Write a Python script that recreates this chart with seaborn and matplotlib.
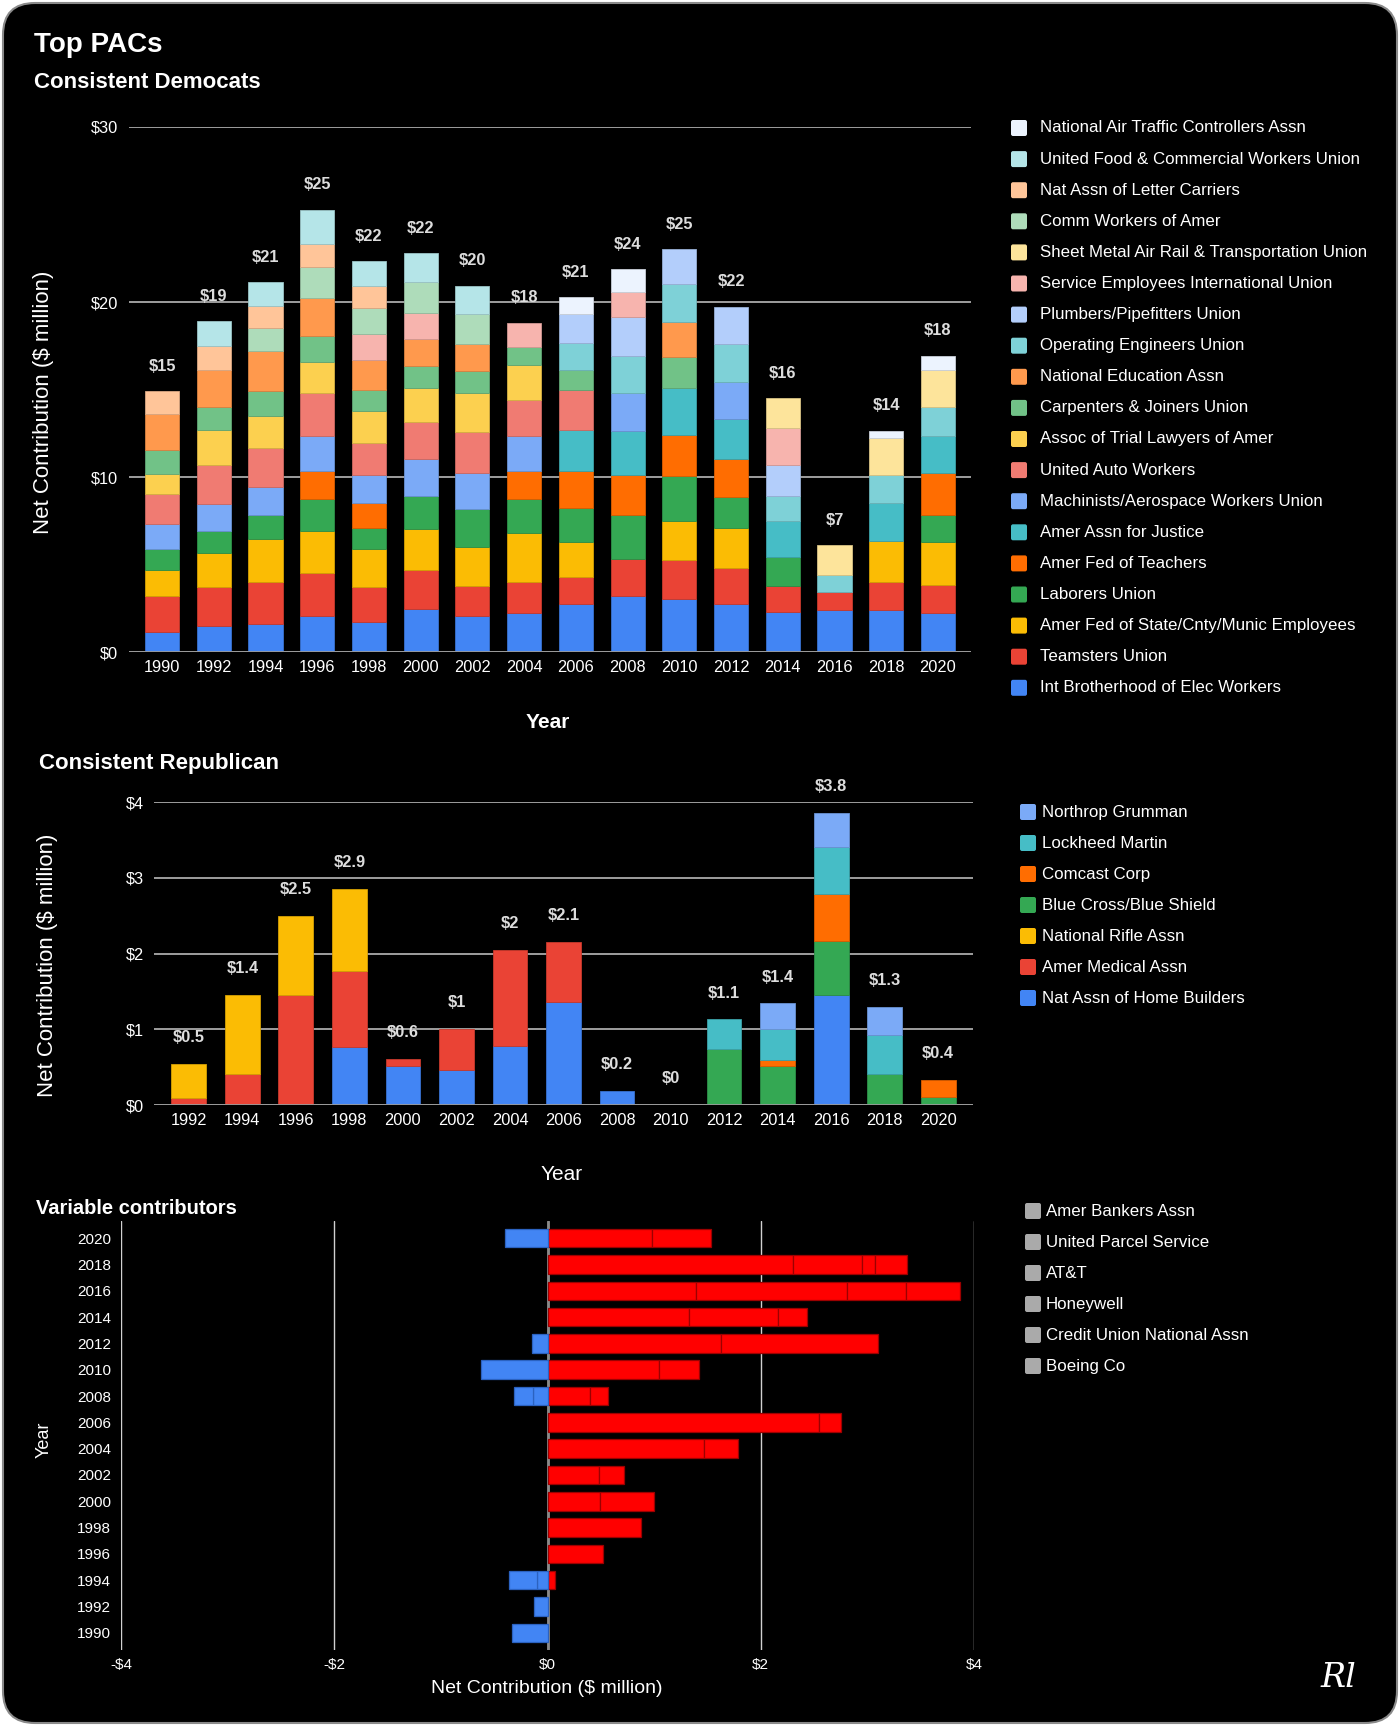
import matplotlib
matplotlib.use("Agg")
import matplotlib.pyplot as plt
import seaborn as sns
import numpy as np
from matplotlib.patches import FancyBboxPatch
from matplotlib.transforms import IdentityTransform
from matplotlib.colors import to_rgb

W, H = 1400, 1726

# ---------------- data: consistent Democrats ----------------
dem_years = [1990, 1992, 1994, 1996, 1998, 2000, 2002, 2004, 2006, 2008, 2010, 2012, 2014, 2016, 2018, 2020]
dem_totals = ["$15", "$19", "$21", "$25", "$22", "$22", "$20", "$18", "$21", "$24", "$25", "$22", "$16", "$7", "$14", "$18"]

ibew       = [1.15, 1.49, 1.59, 2.07, 1.74, 2.45, 2.07, 2.22, 2.72, 3.22, 3.03, 2.72, 2.30, 2.40, 2.40, 2.23]
teamsters  = [2.05, 2.21, 2.43, 2.43, 1.96, 2.21, 1.72, 1.80, 1.55, 2.09, 2.20, 2.10, 1.45, 1.03, 1.60, 1.62]
afscme     = [1.47, 1.95, 2.44, 2.43, 2.16, 2.35, 2.19, 2.76, 2.01, 0, 2.26, 2.25, 0, 0, 2.32, 2.42]
laborers   = [1.21, 1.28, 1.38, 1.79, 1.25, 1.88, 2.20, 1.96, 1.96, 2.53, 2.55, 1.79, 1.70, 0, 0, 1.54]
aft        = [0, 0, 0, 1.62, 1.38, 0, 0, 1.60, 2.10, 2.27, 2.35, 2.17, 0, 0, 0, 2.40]
aaj        = [0, 0, 0, 0, 0, 0, 0, 0, 2.36, 2.53, 2.69, 2.27, 2.04, 0, 2.21, 2.13]
machinists = [1.46, 1.54, 1.59, 1.98, 1.62, 2.13, 2.07, 2.02, 0, 2.15, 0, 2.11, 0, 0, 0, 0]
uaw        = [1.69, 2.20, 2.22, 2.49, 1.86, 2.10, 2.30, 2.05, 2.28, 0, 0, 0, 0, 0, 0, 0]
trial      = [1.17, 2.01, 1.86, 1.78, 1.80, 1.96, 2.24, 1.97, 0, 0, 0, 0, 0, 0, 0, 0]
carpenters = [1.36, 1.34, 1.39, 1.48, 1.23, 1.28, 1.24, 1.03, 1.15, 0, 1.78, 0, 0, 0, 0, 0]
nea        = [2.05, 2.11, 2.28, 2.18, 1.70, 1.55, 1.56, 0, 0, 0, 1.97, 0, 0, 0, 0, 0]
op_eng     = [0, 0, 0, 0, 0, 0, 0, 0, 1.55, 2.13, 2.19, 2.19, 1.44, 0.97, 1.60, 1.68]
plumbers   = [0, 0, 0, 0, 0, 0, 0, 0, 1.63, 2.20, 2.00, 2.13, 1.77, 0, 0, 0]
seiu       = [0, 0, 0, 0, 1.46, 1.44, 0, 1.40, 0, 1.43, 0, 0, 2.12, 0, 0, 0]
sheet      = [0, 0, 0, 0, 0, 0, 0, 0, 0, 0, 0, 0, 1.68, 1.70, 2.12, 2.11]
cwa        = [0, 0, 1.36, 1.77, 1.51, 1.81, 1.72, 0, 0, 0, 0, 0, 0, 0, 0, 0]
carriers   = [1.30, 1.36, 1.25, 1.29, 1.24, 0, 0, 0, 0, 0, 0, 0, 0, 0, 0, 0]
ufcw       = [0, 1.40, 1.35, 1.95, 1.43, 1.62, 1.62, 0, 0, 0, 0, 0, 0, 0, 0, 0]
natca      = [0, 0, 0, 0, 0, 0, 0, 0, 0.95, 1.32, 0, 0, 0, 0, 0.40, 0.80]

# stack order, bottom first
dem_names = ["Int Brotherhood of Elec Workers", "Teamsters Union", "Amer Fed of State/Cnty/Munic Employees",
             "Laborers Union", "Amer Fed of Teachers", "Amer Assn for Justice", "Machinists/Aerospace Workers Union",
             "United Auto Workers", "Assoc of Trial Lawyers of Amer", "Carpenters & Joiners Union",
             "National Education Assn", "Operating Engineers Union", "Plumbers/Pipefitters Union",
             "Service Employees International Union", "Sheet Metal Air Rail & Transportation Union",
             "Comm Workers of Amer", "Nat Assn of Letter Carriers", "United Food & Commercial Workers Union",
             "National Air Traffic Controllers Assn"]
dem_series = [ibew, teamsters, afscme, laborers, aft, aaj, machinists, uaw, trial, carpenters,
              nea, op_eng, plumbers, seiu, sheet, cwa, carriers, ufcw, natca]
dem_colors = ["#4285f4", "#ea4335", "#fbbc04", "#34a853", "#ff6d01", "#46bdc6", "#7baaf7", "#f07b72",
              "#fcd04f", "#71c287", "#ff994d", "#7ed1d7", "#b3cefb", "#f7b4ae", "#fde49b", "#aedcba",
              "#ffc599", "#b5e5e8", "#ecf3fe"]

# ---------------- data: consistent Republican ----------------
rep_years = [1992, 1994, 1996, 1998, 2000, 2002, 2004, 2006, 2008, 2010, 2012, 2014, 2016, 2018, 2020]
rep_totals = ["$0.5", "$1.4", "$2.5", "$2.9", "$0.6", "$1", "$2", "$2.1", "$0.2", "$0", "$1.1", "$1.4", "$3.8", "$1.3", "$0.4"]

nahb     = [0, 0, 0, 0.76, 0.52, 0.46, 0.78, 1.36, 0.185, 0, 0, 0, 1.45, 0, 0]
ama      = [0.09, 0.41, 1.45, 1.01, 0.09, 0.54, 1.27, 0.79, 0, 0, 0, 0, 0, 0, 0]
nra      = [0.45, 1.04, 1.05, 1.08, 0, 0, 0, 0, 0, 0, 0, 0, 0, 0, 0]
bcbs     = [0, 0, 0, 0, 0, 0, 0, 0, 0, 0, 0.74, 0.52, 0.71, 0.41, 0.11]
comcast  = [0, 0, 0, 0, 0, 0, 0, 0, 0, 0, 0, 0.07, 0.62, 0, 0.22]
lockheed = [0, 0, 0, 0, 0, 0, 0, 0, 0, 0, 0.39, 0.41, 0.62, 0.51, 0]
northrop = [0, 0, 0, 0, 0, 0, 0, 0, 0, 0, 0, 0.34, 0.45, 0.38, 0]

rep_names = ["Nat Assn of Home Builders", "Amer Medical Assn", "National Rifle Assn", "Blue Cross/Blue Shield",
             "Comcast Corp", "Lockheed Martin", "Northrop Grumman"]
rep_series = [nahb, ama, nra, bcbs, comcast, lockheed, northrop]
rep_colors = ["#4285f4", "#ea4335", "#fbbc04", "#34a853", "#ff6d01", "#46bdc6", "#7baaf7"]

# ---------------- data: variable contributors ----------------
var_years = [1990, 1992, 1994, 1996, 1998, 2000, 2002, 2004, 2006, 2008, 2010, 2012, 2014, 2016, 2018, 2020]
bankers   = [0, 0, 0.075, 0.52, 0.88, 0.49, 0.48, 1.47, 2.55, 0.40, 1.05, 1.63, 1.33, 1.39, 2.30, 0.98]
ups       = [0, 0, 0, 0, 0, 0.51, 0.24, 0.32, 0.20, 0.17, 0.37, 1.47, 0.83, 1.42, 0.65, 0.55]
att       = [0, 0, 0, 0, 0, 0, 0, 0, 0, 0, 0, 0, 0.27, 0.55, 0.12, 0]
honeywell = [0, 0, 0, 0, 0, 0, 0, 0, 0, 0, 0, 0, 0, 0.51, 0.30, 0]
cuna      = [-0.33, -0.13, -0.095, 0, 0, 0, 0, 0, 0, -0.14, -0.62, -0.15, 0, 0, 0, -0.40]
boeing    = [0, 0, -0.27, 0, 0, 0, 0, 0, 0, -0.17, 0, 0, 0, 0, 0, 0]
var_names = ["Amer Bankers Assn", "United Parcel Service", "AT&T", "Honeywell", "Credit Union National Assn", "Boeing Co"]
var_series = [bankers, ups, att, honeywell, cuna, boeing]

# ---------------- helpers ----------------
def fpos(x, y):
    return x / W, 1 - y / H


def darker(c, f=0.8):
    r, g, b = to_rgb(c)
    return (r * f, g * f, b * f)


def style_axes(ax):
    ax.set_facecolor("black")
    for s in ax.spines.values():
        s.set_visible(False)
    ax.tick_params(colors="white", length=0)


def draw_legend(fig, names, colors, x_sw, x_txt, y0, dy, size=16):
    for i, (lab, col) in enumerate(zip(names, colors)):
        yc = y0 + i * dy
        fig.patches.append(FancyBboxPatch((x_sw, H - yc - size / 2), size, size,
                                          boxstyle="round,pad=0,rounding_size=2",
                                          transform=IdentityTransform(), facecolor=col,
                                          edgecolor="none", zorder=2))
        fig.text(*fpos(x_txt, yc), lab, color="white", fontsize=12.2, va="center", ha="left")


def stacked(ax, x, series, colors, width):
    bottom = np.zeros(len(x))
    for vals, col in zip(series, colors):
        v = np.array(vals, dtype=float)
        m = v > 0
        ax.bar(x[m], v[m], bottom=bottom[m], width=width, color=col,
               edgecolor=darker(col, 0.85), linewidth=0.6, zorder=3)
        bottom += v
    return bottom


sns.set_theme(style="dark")
plt.rcParams["font.family"] = ["Liberation Sans", "DejaVu Sans"]

fig = plt.figure(figsize=(W / 100, H / 100), dpi=100, facecolor="white")
fig.patches.append(FancyBboxPatch((3, 3), W - 6, H - 6, boxstyle="round,pad=0,rounding_size=32",
                                  transform=IdentityTransform(), facecolor="black",
                                  edgecolor="#8a8a8a", linewidth=1.5, zorder=-10))

fig.text(*fpos(34, 45), "Top PACs", color="white", fontsize=20, fontweight="bold", va="center")
fig.text(*fpos(34, 82), "Consistent Democats", color="white", fontsize=16, fontweight="bold", va="center")

# ---------------- chart 1 ----------------
ax1 = fig.add_axes([129 / W, 1 - 652 / H, 842 / W, 525 / H])
style_axes(ax1)
x1 = np.arange(len(dem_years))
tot1 = stacked(ax1, x1, dem_series, dem_colors, 0.66)
ax1.set_xlim(-0.64, len(dem_years) - 0.36)
ax1.set_ylim(0, 30)
ax1.set_yticks([0, 10, 20, 30], ["$0", "$10", "$20", "$30"])
ax1.set_xticks(x1, [str(y) for y in dem_years])
ax1.tick_params(axis="y", pad=8, labelsize=11.8)
ax1.tick_params(axis="x", pad=6, labelsize=11.8)
ax1.yaxis.grid(True, color="#c8c8c8", linewidth=1.1, zorder=0)
ax1.xaxis.grid(False)
ax1.axhline(0, color="#9a9a9a", linewidth=2, zorder=4)
for xi, t, lab in zip(x1, tot1, dem_totals):
    ax1.annotate(lab, (xi, t), xytext=(0, 18), textcoords="offset points", ha="center", va="center",
                 color="#dddddd", fontsize=11.8, fontweight="bold")
fig.text(*fpos(44, 402), "Net Contribution ($ million)", color="white", fontsize=16,
         rotation=90, ha="center", va="center")
fig.text(*fpos(548, 722), "Year", color="white", fontsize=15, fontweight="bold", ha="center", va="center")
draw_legend(fig, dem_names[::-1], dem_colors[::-1], 1011, 1040, 128, 31.1)

# ---------------- chart 2 ----------------
fig.text(*fpos(39, 763), "Consistent Republican", color="white", fontsize=16, fontweight="bold", va="center")
ax2 = fig.add_axes([154 / W, 1 - 1105 / H, 819 / W, 303 / H])
style_axes(ax2)
x2 = np.arange(len(rep_years))
tot2 = stacked(ax2, x2, rep_series, rep_colors, 0.65)
ax2.set_xlim(-0.65, len(rep_years) - 0.35)
ax2.set_ylim(0, 4)
ax2.set_yticks([0, 1, 2, 3, 4], ["$0", "$1", "$2", "$3", "$4"])
ax2.set_xticks(x2, [str(y) for y in rep_years])
ax2.tick_params(axis="y", pad=7, labelsize=11.8)
ax2.tick_params(axis="x", pad=6, labelsize=11.8)
ax2.yaxis.grid(True, color="#c8c8c8", linewidth=1.1, zorder=0)
ax2.xaxis.grid(False)
ax2.axhline(0, color="#9a9a9a", linewidth=2, zorder=4)
for xi, t, lab in zip(x2, tot2, rep_totals):
    ax2.annotate(lab, (xi, t), xytext=(0, 19), textcoords="offset points", ha="center", va="center",
                 color="#dddddd", fontsize=11.8, fontweight="bold")
fig.text(*fpos(48, 965), "Net Contribution ($ million)", color="white", fontsize=16,
         rotation=90, ha="center", va="center")
fig.text(*fpos(562, 1174), "Year", color="white", fontsize=15, ha="center", va="center")
draw_legend(fig, rep_names[::-1], rep_colors[::-1], 1020, 1042, 812, 31.0)

# ---------------- chart 3 ----------------
fig.text(*fpos(36, 1208), "Variable contributors", color="white", fontsize=14.5, fontweight="bold", va="center")
ax3 = fig.add_axes([121 / W, 1 - 1650 / H, 853 / W, 429 / H])
style_axes(ax3)
y3 = np.arange(len(var_years))
left_pos = np.zeros(len(y3))
left_neg = np.zeros(len(y3))
for vals in var_series:
    v = np.array(vals, dtype=float)
    p = v > 0
    n = v < 0
    ax3.barh(y3[p], v[p], left=left_pos[p], height=0.7, color="#ff0000",
             edgecolor="#9c0000", linewidth=0.9, zorder=3)
    ax3.barh(y3[n], v[n], left=left_neg[n], height=0.7, color="#4285f4",
             edgecolor="#2b62c0", linewidth=0.9, zorder=3)
    left_pos += np.where(p, v, 0)
    left_neg += np.where(n, v, 0)
ax3.set_xlim(-4, 4)
ax3.set_ylim(-0.65, len(var_years) - 0.35)
ax3.set_xticks([-4, -2, 0, 2, 4], ["-$4", "-$2", "$0", "$2", "$4"])
ax3.set_yticks(y3, [str(y) for y in var_years])
ax3.tick_params(axis="y", pad=7, labelsize=11)
ax3.tick_params(axis="x", pad=6, labelsize=11)
ax3.xaxis.grid(True, color="#d0d0d0", linewidth=1.0, zorder=0)
ax3.yaxis.grid(False)
ax3.axvline(0, color="#8a8a8a", linewidth=2, zorder=1)
fig.text(*fpos(44, 1440), "Year", color="white", fontsize=13, rotation=90, ha="center", va="center")
fig.text(*fpos(547, 1688), "Net Contribution ($ million)", color="white", fontsize=14, ha="center", va="center")
draw_legend(fig, var_names, ["#aaaaaa"] * len(var_names), 1025, 1046, 1211, 31.0)

fig.text(*fpos(1338, 1678), "Rl", color="white", fontsize=24, fontstyle="italic",
         family="DejaVu Serif", fontweight="light", ha="center", va="center")

fig.savefig("out.png", dpi=100, facecolor=fig.get_facecolor())
